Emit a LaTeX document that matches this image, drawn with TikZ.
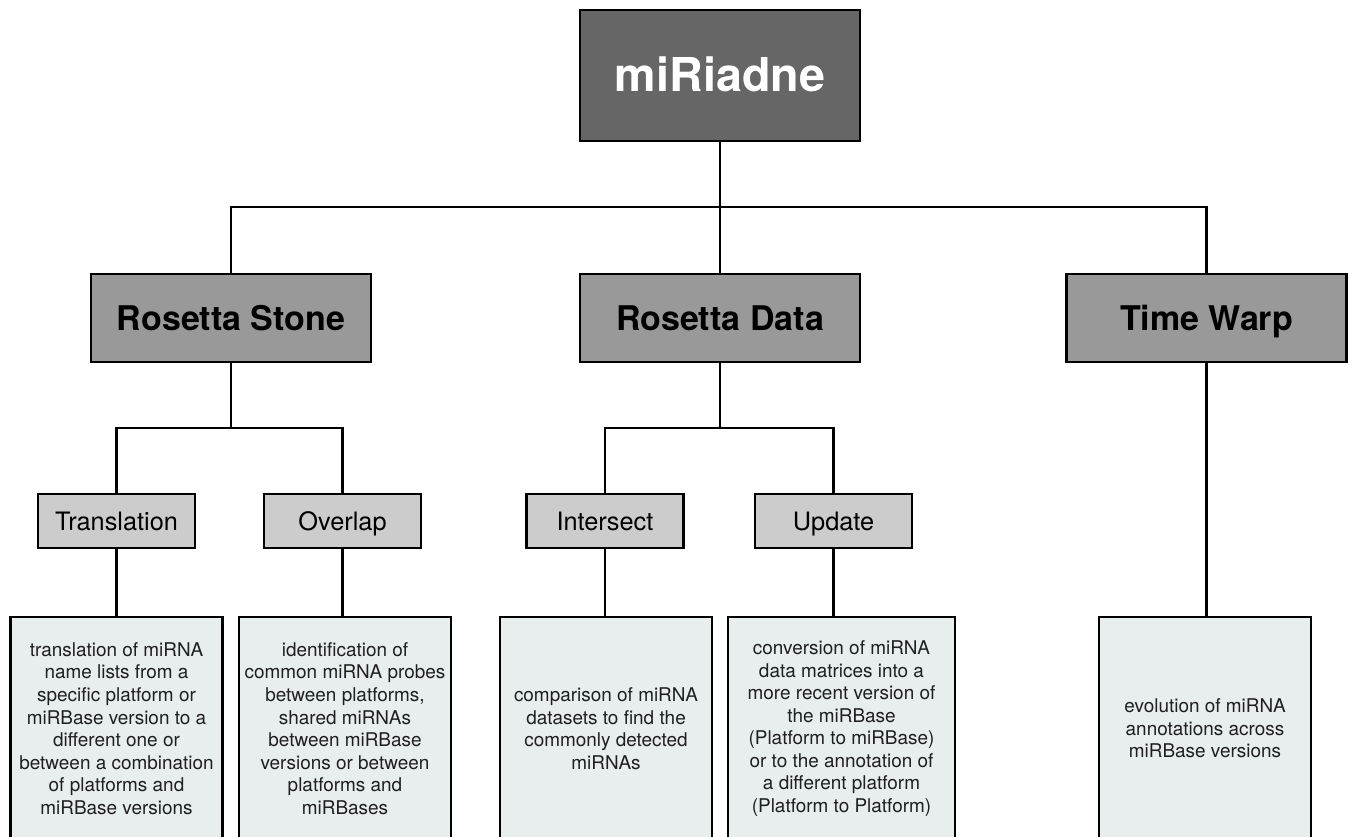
\documentclass[tikz,border=0pt]{standalone}
\usepackage{fontspec}
\setmainfont{TeX Gyre Heros}
\begin{document}
\begin{tikzpicture}[x=0.75pt,y=-0.75pt]
\definecolor{topc}{HTML}{666666}
\definecolor{midc}{HTML}{999999}
\definecolor{subc}{HTML}{CCCCCC}
\definecolor{descc}{HTML}{E8EDED}
\tikzset{
  base/.style={draw=black, line width=1.8pt, rectangle, inner sep=0pt, align=center},
  topbox/.style={base, text height=24pt, text depth=0pt, fill=topc, text=white, font=\fontsize{35}{40}\selectfont\bfseries, minimum width=210pt, minimum height=98pt},
  midbox/.style={base, text height=18.4pt, text depth=0pt, fill=midc, font=\fontsize{25.5}{30}\selectfont\bfseries, minimum width=210pt, minimum height=66pt},
  subbox/.style={base, text height=13.7pt, text depth=0pt, fill=subc, font=\fontsize{19}{22}\selectfont, minimum width=117.75pt, minimum height=40.5pt},
  descbox/.style={base, fill=descc, text=black!88, font=\fontsize{14.2}{16.9}\selectfont, minimum width=159pt, minimum height=167pt},
  conn/.style={draw=black, line width=1.6pt}
}
\useasboundingbox (0,0) rectangle (1349,837);
\clip (0,0) rectangle (1349,837);
\node[topbox] (top) at (720,75.5) {miRiadne};
\node[midbox] (rs) at (231,318) {Rosetta Stone};
\node[midbox] (rd) at (720,318) {Rosetta Data};
\node[midbox] (tw) at (1206.5,318) {Time Warp};
\node[subbox] (tr) at (116.5,521) {Translation};
\node[subbox] (ov) at (342.5,521) {Overlap};
\node[subbox] (is) at (605,521) {Intersect};
\node[subbox] (up) at (833.5,521) {Update};
\node[descbox] (trd) at (116.5,728.5) {translation of miRNA\\name lists from a\\specific platform or\\miRBase version to a\\different one or\\between a combination\\of platforms and\\miRBase versions};
\node[descbox] (ovd) at (345,728.5) {identification of\\common miRNA probes\\between platforms,\\shared miRNAs\\between miRBase\\versions or between\\platforms and\\miRBases};
\node[descbox] (isd) at (606,728.5) {comparison of miRNA\\datasets to find the\\commonly detected\\miRNAs};
\node[descbox, minimum width=170pt] (upd) at (841.5,728.5) {conversion of miRNA\\data matrices into a\\more recent version of\\the miRBase\\(Platform to miRBase)\\or to the annotation of\\a different platform\\(Platform to Platform)};
\node[descbox] (twd) at (1205,728.5) {evolution of miRNA\\annotations across\\miRBase versions};
\coordinate (bus) at (720,207);
\coordinate (rsb) at (231,428);
\coordinate (rdb) at (720,428);
\draw[conn] (top.south) -- (rd.north);
\draw[conn] (rs.north) |- (bus) -| (tw.north);
\draw[conn] (rs.south) -- (rsb);
\draw[conn] (tr.north) |- (rsb) -| (ov.north);
\draw[conn] (rd.south) -- (rdb);
\draw[conn] (is.north) |- (rdb) -| (up.north);
\draw[conn] (tr.south) -- (tr.south |- trd.north);
\draw[conn] (ov.south) -- (ov.south |- ovd.north);
\draw[conn] (is.south) -- (is.south |- isd.north);
\draw[conn] (up.south) -- (up.south |- upd.north);
\draw[conn] (tw.south) -- (tw.south |- twd.north);
\end{tikzpicture}
\end{document}
